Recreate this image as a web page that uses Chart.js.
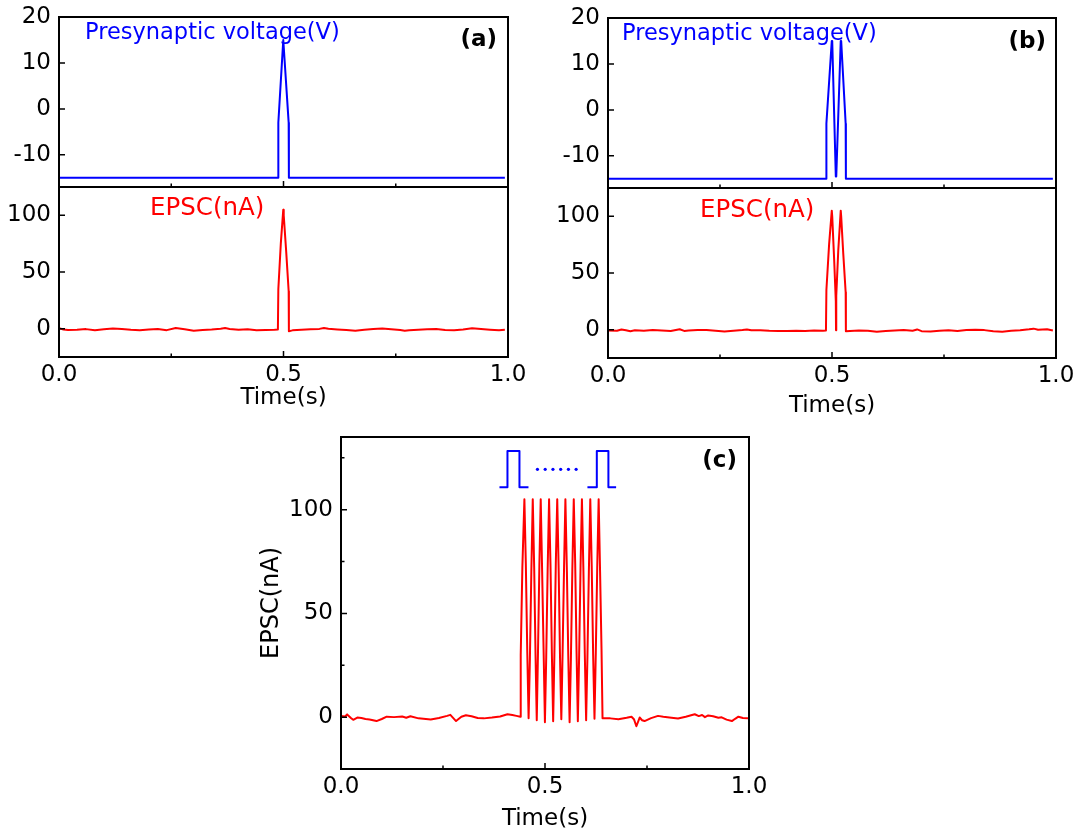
<!DOCTYPE html>
<html><head><meta charset="utf-8">
<script src="https://cdn.jsdelivr.net/npm/chart.js@4.4.1/dist/chart.umd.min.js"></script>
<style>
html,body{margin:0;padding:0;background:#fff;}
#wrap{position:relative;width:1079px;height:836px;background:#fff;overflow:hidden;}
canvas{position:absolute;}
</style></head><body><div id="wrap">
<canvas id="aTop"></canvas><canvas id="aBot"></canvas>
<canvas id="bTop"></canvas><canvas id="bBot"></canvas>
<canvas id="cMain"></canvas>
</div>
<script>
// ---------------- data ----------------
const xTickLabels = [0, 0.5, 1.0];
const xTitle = 'Time(s)';
const voltTicks = [-10, 0, 10, 20];
const epscTicks = [0, 50, 100];
const epscMinorC = [25, 75, 125];

// panel (a)
const aVoltT = [0, 0.488, 0.4885, 0.4995, 0.5005, 0.5115, 0.512, 0.993];
const aVoltV = [-15, -15, -3, 15, 15, -3, -15, -15];
const aEpscT = [0,0.01,0.02,0.04,0.06,0.08,0.10,0.12,0.14,0.16,0.18,0.20,0.22,0.24,0.26,0.28,0.30,0.32,0.34,0.36,0.37,0.38,0.40,0.42,0.44,0.46,0.48,0.4875,0.4885,0.494,0.4995,0.5005,0.506,0.5115,0.512,0.52,0.54,0.56,0.58,0.59,0.60,0.62,0.64,0.66,0.68,0.70,0.72,0.74,0.76,0.77,0.78,0.80,0.82,0.84,0.86,0.88,0.90,0.92,0.94,0.96,0.98,0.993];
const aEpscV = [0.3,-0.8,-1.2,-1.0,-0.4,-1.3,-0.6,0.1,-0.2,-0.9,-1.4,-0.8,-0.3,-1.3,0.6,-0.5,-1.9,-1.1,-0.8,-0.1,0.5,-0.2,-0.9,-0.6,-1.3,-1.1,-0.9,-0.7,35,75,105,100,68,33,-2.2,-1.5,-1.0,-0.6,-0.2,0.6,-0.1,-0.7,-1.2,-1.8,-1.0,-0.3,0.2,-0.5,-1.2,-1.9,-1.4,-1.0,-0.6,-0.4,-1.1,-1.3,-0.7,0.4,-0.3,-0.9,-1.4,-1.0];

// panel (b)
const bVoltT = [0, 0.487, 0.4875, 0.4995, 0.5005, 0.5085, 0.5095, 0.5195, 0.5205, 0.5305, 0.531, 0.993];
const bVoltV = [-15, -15, -3, 15, 15, -14.5, -14.5, 15, 15, -3, -15, -15];
const bEpscT = [0,0.02,0.03,0.04,0.05,0.06,0.08,0.10,0.12,0.14,0.16,0.17,0.18,0.20,0.22,0.24,0.26,0.28,0.30,0.31,0.32,0.34,0.36,0.38,0.40,0.42,0.44,0.46,0.48,0.4865,0.4875,0.4935,0.4995,0.5005,0.505,0.5085,0.509,0.5095,0.514,0.5195,0.5205,0.525,0.5305,0.531,0.54,0.56,0.58,0.60,0.62,0.64,0.66,0.68,0.69,0.70,0.72,0.74,0.76,0.78,0.80,0.82,0.84,0.86,0.88,0.90,0.92,0.94,0.95,0.96,0.98,0.993];
const bEpscV = [-0.8,-1.0,0.2,-0.5,-1.4,-0.6,-0.9,-0.3,-0.7,-1.2,0.4,-1.1,-0.8,-0.4,-0.2,-1.0,-1.7,-0.9,-0.3,0.2,-0.6,-0.5,-1.0,-1.1,-1.2,-0.9,-1.1,-0.8,-0.9,-0.7,35,75,105,100,60,25,-0.5,30,70,105,100,68,33,-1.5,-1.2,-0.8,-1.0,-1.9,-1.2,-0.7,-0.4,-0.9,0.2,-1.3,-1.6,-1.0,-0.5,-1.1,-0.3,0,-0.4,-1.4,-1.8,-1.0,-0.6,0.3,0.9,-0.1,0.3,-0.8];

// panel (c)
const cPreT = [0,0.01,0.015,0.025,0.03,0.04,0.05,0.06,0.07,0.087,0.10,0.112,0.13,0.15,0.16,0.17,0.19,0.22,0.24,0.26,0.268,0.282,0.295,0.306,0.32,0.335,0.35,0.37,0.39,0.408,0.42,0.43,0.4395];
const cPreV = [0.5,0.3,1.3,-0.5,-1.3,-0.2,-0.4,-0.9,-1.1,-1.9,-0.9,0.2,0,0.3,-0.3,0.4,-0.6,-1.1,-0.4,0.6,1.1,-1.9,0.2,0.9,0.4,-0.4,-0.6,-0.2,0.3,1.4,1.0,0.6,0.2];
const cTrainT = [0.4400,0.4410,0.4445,0.4495,0.4530,0.4565,0.4598,
  0.4630,0.4665,0.4700,0.4735,0.4768,0.4798,
  0.4828,0.4862,0.4895,0.4930,0.4965,0.4998,
  0.5030,0.5065,0.5100,0.5135,0.5168,0.5200,
  0.5230,0.5265,0.5300,0.5335,0.5368,0.5400,
  0.5432,0.5467,0.5500,0.5537,0.5570,0.5603,
  0.5635,0.5670,0.5705,0.5740,0.5773,0.5805,
  0.5837,0.5872,0.5905,0.5940,0.5975,0.6008,
  0.6040,0.6075,0.6110,0.6145,0.6180,0.6213,
  0.6245,0.6280,0.6315,0.6350,0.6385,0.6410];
const cTrainV = [0.3,30,72,105,74,32,-0.5,
  28,70,105,72,30,-1.5,
  31,73,105,70,33,-2.5,
  29,71,105,73,31,-2.0,
  30,74,105,71,29,-1.0,
  32,72,105,70,30,-2.5,
  28,71,105,74,32,-2.0,
  30,73,105,72,31,-1.5,
  29,70,105,73,30,-0.8,
  31,72,105,70,33,-0.5];
const cPostT = [0.645,0.66,0.68,0.70,0.712,0.718,0.724,0.732,0.738,0.744,0.76,0.777,0.79,0.81,0.826,0.845,0.867,0.877,0.885,0.892,0.90,0.912,0.925,0.933,0.945,0.958,0.966,0.974,0.985,0.998];
const cPostV = [-0.5,-0.6,-1.0,-0.3,0.2,-1.0,-4.4,-0.2,-1.5,-1.9,-0.5,0.6,0.2,-0.3,-0.7,0.2,1.4,0.5,1.0,0.0,0.8,0.4,-0.3,-0.1,-1.2,-1.9,-0.8,0.2,-0.4,-0.5];
const cPulse1T = [0.3884, 0.4080, 0.4080, 0.4374, 0.4374, 0.4595];
const cPulse2T = [0.6040, 0.6270, 0.6270, 0.6554, 0.6554, 0.6743];
const cPulseV  = [110.8, 110.8, 128.3, 128.3, 110.8, 110.8];
const cDotsT = [0.4815, 0.5005, 0.5195, 0.5384, 0.5574, 0.5763];
const cDotsV = [119.4, 119.4, 119.4, 119.4, 119.4, 119.4];

// ---------------- rendering ----------------
const BLUE = '#0000ff', RED = '#ff0000';
const FONT = "'DejaVu Sans', sans-serif";
Chart.defaults.font.family = FONT;
Chart.defaults.color = '#000';

function pts(t, v) { return t.map((x, i) => ({ x: x, y: v[i] })); }
function lineDs(t, v, color) {
  return { data: pts(t, v), showLine: true, borderColor: color, borderWidth: 2, pointRadius: 0,
           tension: 0, borderJoinStyle: 'round', fill: false };
}
function noPad(s) { s.paddingTop = 0; s.paddingBottom = 0; s.paddingLeft = 0; s.paddingRight = 0; }

function framePlugin(cfg) {
  return {
    id: 'frame',
    afterDraw(chart) {
      const { ctx, chartArea: a, scales } = chart;
      ctx.save();
      ctx.strokeStyle = '#000';
      ctx.lineWidth = 1.5;
      ctx.beginPath();
      const tick = (list, len, horiz) => (list || []).forEach(v => {
        if (horiz) { const x = scales.x.getPixelForValue(v); ctx.moveTo(x, a.bottom); ctx.lineTo(x, a.bottom - len); }
        else { const y = scales.y.getPixelForValue(v); ctx.moveTo(a.left, y); ctx.lineTo(a.left + len, y); }
      });
      tick(cfg.xMajor, 6, true); tick(cfg.xMinor, 3.5, true);
      tick(cfg.yMajor, 6, false); tick(cfg.yMinor, 3.5, false);
      ctx.stroke();
      ctx.lineWidth = 2;
      ctx.strokeRect(a.left, a.top, a.right - a.left, a.bottom - a.top);
      ctx.restore();
    }
  };
}
function notesPlugin(items, box) {
  return {
    id: 'notes',
    afterDraw(chart) {
      const ctx = chart.ctx;
      ctx.save();
      items.forEach(n => {
        ctx.font = (n.bold ? 'bold ' : '') + n.size + 'px ' + FONT;
        ctx.fillStyle = n.color || '#000';
        ctx.textAlign = n.align || 'left';
        ctx.textBaseline = 'alphabetic';
        ctx.fillText(n.text, n.x - box.l, n.y - box.t);
      });
      ctx.restore();
    }
  };
}

function makePanel(id, box, area, o) {
  const cv = document.getElementById(id);
  cv.width = box.w; cv.height = box.h;
  cv.style.left = box.l + 'px'; cv.style.top = box.t + 'px';
  cv.style.width = box.w + 'px'; cv.style.height = box.h + 'px';
  const L = area.l - box.l, T = area.t - box.t, R = box.l + box.w - area.r, B = box.t + box.h - area.b;
  return new Chart(cv, {
    type: 'scatter',
    data: { datasets: o.datasets },
    options: {
      responsive: false, animation: false, devicePixelRatio: 1,
      layout: { padding: { left: 0, top: T, right: R, bottom: 0 } },
      plugins: { legend: { display: false }, tooltip: { enabled: false } },
      scales: {
        x: {
          type: 'linear', min: 0, max: 1,
          afterFit: s => { s.height = B; noPad(s); },
          afterBuildTicks: s => { s.ticks = xTickLabels.map(v => ({ value: v })); },
          grid: { display: false, drawTicks: false }, border: { display: false },
          ticks: { display: o.xLabels, padding: 4.5, maxRotation: 0, autoSkip: false,
                   font: { size: 23 }, color: '#000', callback: v => Number(v).toFixed(1) },
          title: { display: o.xLabels, text: xTitle, font: { size: 23 }, color: '#000', padding: 0 }
        },
        y: {
          type: 'linear', min: o.yMin, max: o.yMax,
          afterFit: s => { s.width = L; noPad(s); },
          afterBuildTicks: s => { s.ticks = o.yTicks.map(v => ({ value: v })); },
          grid: { display: false, drawTicks: false }, border: { display: false },
          ticks: { padding: 8, font: { size: 23 }, color: '#000', callback: v => String(v) },
          title: o.yTitle ? { display: true, text: o.yTitle, font: { size: 24 }, color: '#000', padding: { top: 7.3, bottom: 0 } }
                          : { display: false }
        }
      }
    },
    plugins: [framePlugin(o.ticks), notesPlugin(o.notes || [], box)]
  });
}

// (a)
makePanel('aTop', { l: 0, t: 0, w: 540, h: 200 }, { l: 59, t: 17, r: 508, b: 187 }, {
  datasets: [lineDs(aVoltT, aVoltV, BLUE)], yMin: -17, yMax: 20, yTicks: voltTicks, xLabels: false,
  ticks: { xMajor: [0.5], xMinor: [0.25, 0.75], yMajor: voltTicks },
  notes: [{ text: 'Presynaptic voltage(V)', x: 85, y: 38.5, size: 22.5, color: BLUE },
          { text: '(a)', x: 497, y: 46, size: 23, bold: true, align: 'right' }]
});
makePanel('aBot', { l: 0, t: 165, w: 540, h: 247 }, { l: 59, t: 187, r: 508, b: 357 }, {
  datasets: [lineDs(aEpscT, aEpscV, RED)], yMin: -25, yMax: 125, yTicks: epscTicks, xLabels: true,
  ticks: { xMajor: [0.5], xMinor: [0.25, 0.75], yMajor: epscTicks },
  notes: [{ text: 'EPSC(nA)', x: 150, y: 215, size: 24.5, color: RED }]
});
// (b)
makePanel('bTop', { l: 540, t: 0, w: 539, h: 200 }, { l: 608, t: 18, r: 1056, b: 188 }, {
  datasets: [lineDs(bVoltT, bVoltV, BLUE)], yMin: -17, yMax: 20, yTicks: voltTicks, xLabels: false,
  ticks: { xMajor: [0.5], xMinor: [0.25, 0.75], yMajor: voltTicks },
  notes: [{ text: 'Presynaptic voltage(V)', x: 622, y: 40, size: 22.5, color: BLUE },
          { text: '(b)', x: 1046, y: 48, size: 23, bold: true, align: 'right' }]
});
makePanel('bBot', { l: 540, t: 165, w: 539, h: 255 }, { l: 608, t: 188, r: 1056, b: 358 }, {
  datasets: [lineDs(bEpscT, bEpscV, RED)], yMin: -25, yMax: 125, yTicks: epscTicks, xLabels: true,
  ticks: { xMajor: [0.5], xMinor: [0.25, 0.75], yMajor: epscTicks },
  notes: [{ text: 'EPSC(nA)', x: 700, y: 217, size: 24.5, color: RED }]
});
// (c)
makePanel('cMain', { l: 250, t: 420, w: 540, h: 413 }, { l: 341, t: 437, r: 749, b: 769 }, {
  datasets: [
    lineDs([...cPreT, ...cTrainT, ...cPostT], [...cPreV, ...cTrainV, ...cPostV], RED),
    lineDs(cPulse1T, cPulseV, BLUE),
    lineDs(cPulse2T, cPulseV, BLUE),
    { data: pts(cDotsT, cDotsV), showLine: false, pointRadius: 1.6, pointBorderWidth: 0,
      pointBackgroundColor: BLUE, pointBorderColor: BLUE }
  ],
  yMin: -25, yMax: 135, yTicks: epscTicks, xLabels: true, yTitle: 'EPSC(nA)',
  ticks: { xMajor: [0.5], xMinor: [0.25, 0.75], yMajor: epscTicks, yMinor: epscMinorC },
  notes: [{ text: '(c)', x: 737, y: 467, size: 23, bold: true, align: 'right' }]
});
</script></body></html>
